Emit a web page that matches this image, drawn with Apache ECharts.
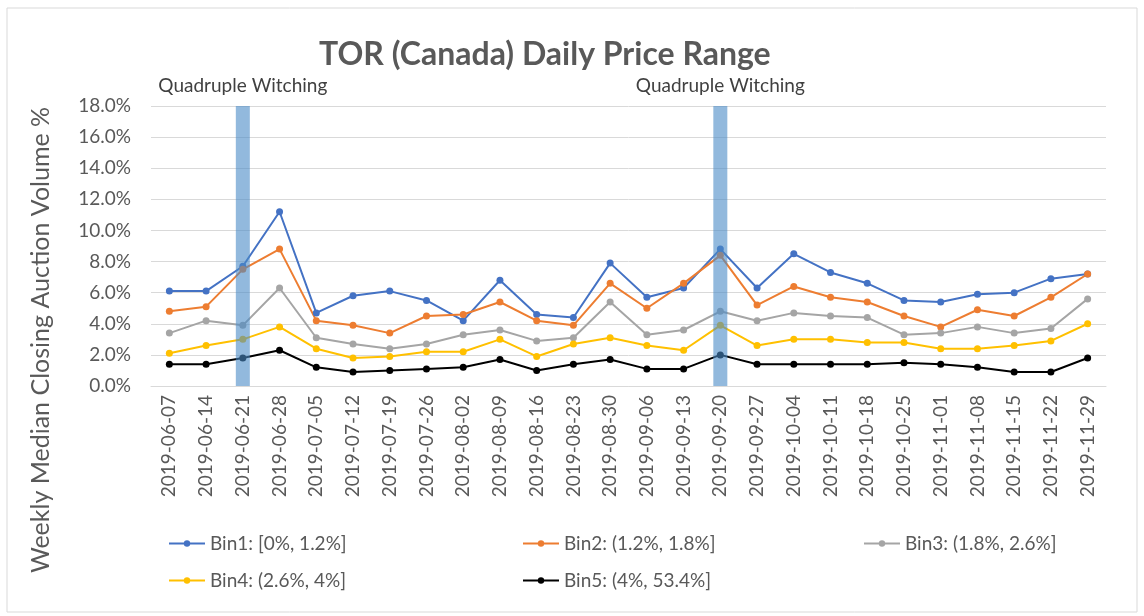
<!DOCTYPE html>
<html>
<head>
<meta charset="utf-8">
<script src="https://cdn.jsdelivr.net/npm/echarts@6/dist/echarts.min.js"></script>
<style>
  html, body { margin: 0; padding: 0; background: #fff; }
  #chart { width: 1144px; height: 616px; }
</style>
</head>
<body>
<div id="chart"></div>
<script>
const weeks = ['2019-06-07', '2019-06-14', '2019-06-21', '2019-06-28', '2019-07-05', '2019-07-12', '2019-07-19',
    '2019-07-26', '2019-08-02', '2019-08-09', '2019-08-16', '2019-08-23', '2019-08-30', '2019-09-06',
    '2019-09-13', '2019-09-20', '2019-09-27', '2019-10-04', '2019-10-11', '2019-10-18', '2019-10-25',
    '2019-11-01', '2019-11-08', '2019-11-15', '2019-11-22', '2019-11-29']

const bin1 = [6.1, 6.1, 7.7, 11.2, 4.7, 5.8, 6.1, 5.5, 4.2, 6.8, 4.6, 4.4, 7.9, 5.7, 6.3, 8.8, 6.3, 8.5, 7.3, 6.6, 5.5, 5.4, 5.9, 6.0, 6.9, 7.2]
const bin2 = [4.8, 5.1, 7.5, 8.8, 4.2, 3.9, 3.4, 4.5, 4.6, 5.4, 4.2, 3.9, 6.6, 5.0, 6.6, 8.4, 5.2, 6.4, 5.7, 5.4, 4.5, 3.8, 4.9, 4.5, 5.7, 7.2]
const bin3 = [3.4, 4.2, 3.9, 6.3, 3.1, 2.7, 2.4, 2.7, 3.3, 3.6, 2.9, 3.1, 5.4, 3.3, 3.6, 4.8, 4.2, 4.7, 4.5, 4.4, 3.3, 3.4, 3.8, 3.4, 3.7, 5.6]
const bin4 = [2.1, 2.6, 3.0, 3.8, 2.4, 1.8, 1.9, 2.2, 2.2, 3.0, 1.9, 2.7, 3.1, 2.6, 2.3, 3.9, 2.6, 3.0, 3.0, 2.8, 2.8, 2.4, 2.4, 2.6, 2.9, 4.0]
const bin5 = [1.4, 1.4, 1.8, 2.3, 1.2, 0.9, 1.0, 1.1, 1.2, 1.7, 1.0, 1.4, 1.7, 1.1, 1.1, 2.0, 1.4, 1.4, 1.4, 1.4, 1.5, 1.4, 1.2, 0.9, 0.9, 1.8]

// quadruple witching weeks, drawn as full height bars
const witching = [null, null, 18, null, null, null, null, null, null, null, null, null, null, null, null, 18,
    null, null, null, null, null, null, null, null, null, null]

const binNames = ['Bin1: [0%, 1.2%]', 'Bin2: (1.2%, 1.8%]', 'Bin3: (1.8%, 2.6%]', 'Bin4: (2.6%, 4%]', 'Bin5: (4%, 53.4%]']
const binData = [bin1, bin2, bin3, bin4, bin5]
const colors = ['#4472C4', '#ED7D31', '#A5A5A5', '#FFC000', '#000000']

const font = 'Lato, "Noto Sans", sans-serif'
const textColor = '#595959'

let myChart = echarts.init(document.getElementById('chart'))

let lineSeries = binData.map((d, i) => ({
    name: binNames[i],
    type: 'line',
    data: d,
    symbol: 'circle',
    symbolSize: 7,
    lineStyle: { width: 2, color: colors[i] },
    itemStyle: { color: colors[i] },
    z: 2
}))

// legend spots: two rows, three columns
let legendPos = [[163, 529], [517, 529], [858, 529], [163, 566], [517, 566]]
let legends = binNames.map((n, i) => ({
    data: [n],
    left: legendPos[i][0],
    top: legendPos[i][1],
    itemWidth: 36,
    itemHeight: 8,
    itemGap: 4,
    textStyle: { fontFamily: font, fontSize: 19, color: textColor }
}))

myChart.setOption({
    animation: false,
    title: {
        text: 'TOR (Canada) Daily Price Range',
        left: 314,
        top: 34,
        textStyle: { fontFamily: font, fontSize: 32, fontWeight: 'bold', color: textColor }
    },
    legend: legends,
    grid: { left: 151, right: 38, top: 106, bottom: 230 },
    xAxis: {
        type: 'category',
        data: weeks,
        axisLine: { lineStyle: { color: '#d9d9d9' } },
        axisTick: { show: false },
        axisLabel: { rotate: 90, fontFamily: font, fontSize: 19, color: textColor, margin: 9 }
    },
    yAxis: {
        type: 'value',
        min: 0,
        max: 18,
        interval: 2,
        axisLine: { show: false },
        axisTick: { show: false },
        splitLine: { lineStyle: { color: '#d9d9d9', width: 1 } },
        axisLabel: {
            fontFamily: font, fontSize: 19, color: textColor, margin: 20,
            formatter: (v) => v.toFixed(1) + '%'
        }
    },
    graphic: [
        {
            type: 'rect',
            shape: { x: 7, y: 8, width: 1130, height: 604 },
            style: { fill: 'none', stroke: '#d9d9d9', lineWidth: 1 },
            silent: true
        },
        {
            type: 'text',
            x: 41,
            y: 340,
            rotation: Math.PI / 2,
            style: {
                text: 'Weekly Median Closing Auction Volume %',
                fontFamily: font, fontSize: 25, fill: textColor,
                align: 'center', verticalAlign: 'middle'
            }
        }
    ],
    series: [
        ...lineSeries,
        {
            name: 'Quadruple Witching',
            type: 'bar',
            data: witching,
            barWidth: 14,
            z: 3,
            itemStyle: { color: 'rgba(74,138,198,0.6)' },
            label: {
                show: true,
                position: 'top',
                distance: 11,
                formatter: 'Quadruple Witching',
                fontFamily: font,
                fontSize: 19,
                color: '#404040'
            }
        }
    ]
})
</script>
</body>
</html>
